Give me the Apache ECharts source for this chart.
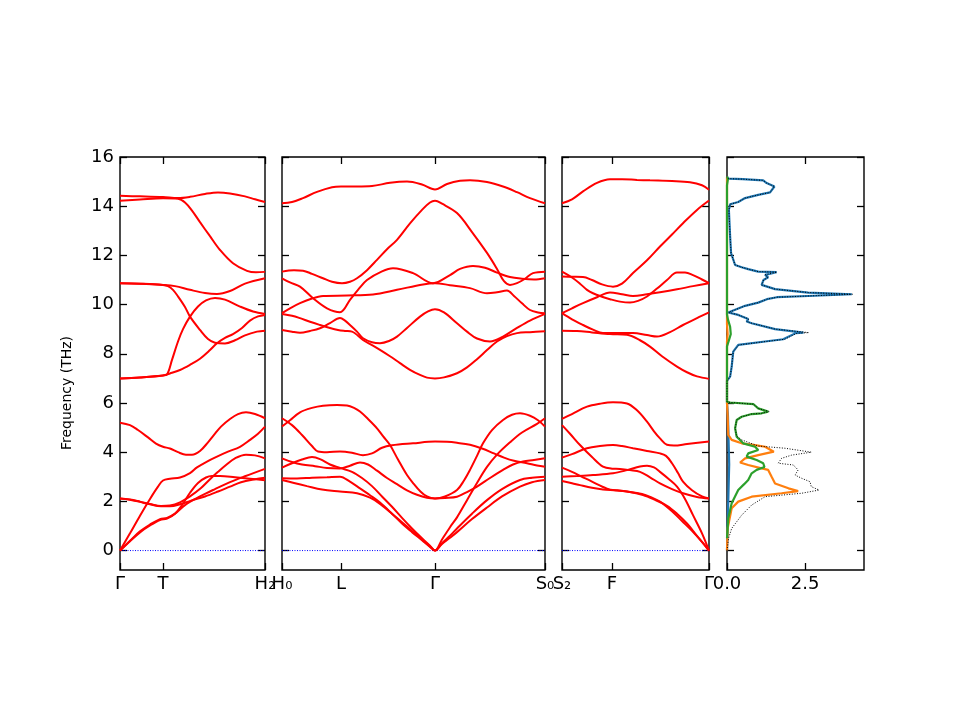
<!DOCTYPE html>
<html><head><meta charset="utf-8">
<script src="https://cdn.jsdelivr.net/npm/echarts@6/dist/echarts.min.js"></script>
<style>html,body{margin:0;padding:0;background:#fff}#c{width:960px;height:720px}</style>
</head><body><div id="c"></div>
<script>
// ---------- DATA ----------
// k-path distances (arbitrary units) of the high-symmetry points per segment
const p1Ticks = [0, 43, 145];  const p1Labels = ['Γ', 'T', 'H₂'];
const p2Ticks = [0, 59, 153, 263]; const p2Labels = ['H₀', 'L', 'Γ', 'S₀'];
const p3Ticks = [0, 50, 147];  const p3Labels = ['S₂', 'F', 'Γ'];
const freqTicks = [0, 2, 4, 6, 8, 10, 12, 14, 16];
const dosTicks = [0, 2.5]; const dosLabels = ['0.0', '2.5'];

// Segment 1: Γ - T - H2   ([distance, THz])
const p1Bands = [
 [[0,0],[10,0.38],[20,0.74],[30,1.02],[40,1.24],[47,1.3],[55,1.5],[62,1.85],[70,2.35],[78,2.75],[86,2.97],[92,3.03],[100,3.03],[115,2.98],[130,2.92],[145,2.86]],
 [[0,0],[10,0.4],[20,0.78],[30,1.06],[40,1.28],[47,1.33],[55,1.5],[65,1.85],[80,2.2],[95,2.5],[110,2.78],[125,3.02],[145,3.32]],
 [[0,2.12],[10,2.07],[20,1.98],[30,1.88],[41,1.8],[50,1.8],[60,1.88],[71,2.03],[85,2.2],[98,2.4],[110,2.6],[121,2.78],[135,2.9],[145,2.96]],
 [[0,2.12],[10,2.08],[20,1.99],[30,1.89],[41,1.81],[50,1.83],[60,1.96],[70,2.2],[81,2.54],[90,2.9],[98,3.2],[106,3.48],[115,3.75],[126,3.9],[135,3.87],[145,3.75]],
 [[0,0],[10,0.7],[20,1.42],[30,2.1],[38,2.6],[43,2.85],[50,2.92],[60,2.97],[70,3.15],[77,3.38],[87,3.62],[97,3.82],[108,4.02],[120,4.22],[130,4.5],[138,4.75],[145,5.04]],
 [[0,5.2],[10,5.1],[18,4.9],[28,4.6],[36,4.35],[43,4.22],[50,4.15],[58,4.0],[66,3.9],[72,3.9],[80,4.05],[88,4.4],[95,4.75],[101,5.04],[110,5.35],[118,5.55],[126,5.62],[135,5.55],[145,5.38]],
 [[0,7.0],[20,7.04],[43,7.12],[50,7.2],[60,7.34],[70,7.55],[80,7.8],[90,8.15],[97,8.43],[105,8.65],[113,8.8],[122,9.05],[130,9.35],[138,9.52],[145,9.58]],
 [[0,7.0],[20,7.04],[43,7.12],[47,7.16],[52,7.75],[58,8.5],[63,9.0],[70,9.51],[78,9.92],[86,10.17],[95,10.27],[105,10.2],[120,9.92],[133,9.72],[145,9.62]],
 [[0,10.87],[20,10.85],[43,10.8],[48,10.75],[53,10.6],[58,10.33],[65,9.9],[70,9.51],[80,8.97],[88,8.6],[95,8.45],[105,8.42],[115,8.55],[125,8.75],[137,8.9],[145,8.94]],
 [[0,10.87],[20,10.85],[43,10.8],[55,10.75],[70,10.6],[85,10.47],[97,10.43],[110,10.55],[125,10.85],[145,11.07]],
 [[0,14.22],[20,14.27],[43,14.32],[58,14.3],[65,14.15],[72,13.82],[80,13.35],[90,12.78],[100,12.22],[113,11.68],[127,11.37],[136,11.31],[145,11.33]],
 [[0,14.42],[20,14.4],[43,14.37],[58,14.33],[70,14.38],[85,14.5],[98,14.56],[110,14.52],[125,14.4],[135,14.28],[145,14.17]]
];

// Segment 2: H0 - L - Γ - S0
const p2Bands = [
 [[0,5.04],[8,5.3],[18,5.62],[30,5.8],[41,5.89],[55,5.92],[65,5.9],[72,5.8],[78,5.65],[86,5.35],[95,4.97],[101,4.65],[108,4.29],[116,3.7],[125,3.07],[132,2.7],[138,2.42],[145,2.2],[153,2.12],[163,2.2],[175,2.46],[182,2.85],[188,3.28],[195,3.85],[201,4.36],[210,4.9],[221,5.31],[230,5.52],[238,5.58],[248,5.48],[256,5.3],[263,5.04]],
 [[0,5.38],[10,5.1],[20,4.7],[30,4.25],[36,4.03],[45,4.0],[58,4.03],[70,3.98],[81,3.88],[90,3.95],[100,4.18],[110,4.28],[131,4.36],[153,4.43],[165,4.42],[175,4.38],[188,4.3],[200,4.15],[212,3.95],[222,3.78],[232,3.65],[245,3.55],[255,3.46],[263,3.41]],
 [[0,3.75],[10,3.6],[20,3.5],[33,3.43],[45,3.36],[58,3.34],[68,3.45],[78,3.58],[86,3.5],[95,3.25],[105,2.95],[115,2.7],[125,2.45],[135,2.27],[145,2.15],[153,2.12],[163,2.14],[175,2.19],[185,2.38],[195,2.6],[208,2.95],[221,3.28],[231,3.5],[241,3.62],[252,3.68],[263,3.75]],
 [[0,3.37],[10,3.55],[20,3.7],[30,3.8],[38,3.72],[48,3.5],[58,3.36],[70,3.2],[80,2.95],[90,2.62],[100,2.2],[110,1.78],[120,1.33],[130,0.9],[140,0.5],[148,0.2],[153,0],[160,0.45],[168,0.95],[175,1.35],[185,2.05],[195,2.75],[205,3.4],[215,3.9],[228,4.4],[240,4.8],[255,5.15],[263,5.38]],
 [[0,2.94],[15,2.93],[30,2.96],[45,2.98],[58,3.0],[68,2.8],[78,2.53],[88,2.25],[98,1.95],[110,1.5],[120,1.1],[130,0.75],[140,0.42],[148,0.15],[153,0],[160,0.3],[168,0.6],[175,0.9],[190,1.5],[205,2.05],[220,2.5],[238,2.87],[250,2.96],[263,3.0]],
 [[0,2.87],[12,2.75],[25,2.62],[40,2.48],[58,2.4],[75,2.33],[88,2.15],[98,1.9],[110,1.5],[120,1.15],[130,0.8],[140,0.45],[148,0.17],[153,0],[160,0.27],[168,0.52],[175,0.75],[190,1.28],[205,1.75],[220,2.2],[238,2.6],[250,2.78],[263,2.87]],
 [[0,9.62],[10,9.55],[18,9.45],[28,9.3],[38,9.17],[48,9.05],[56,8.97],[63,8.93],[70,8.9],[81,8.56],[90,8.35],[98,8.16],[108,7.9],[118,7.62],[128,7.35],[138,7.14],[145,7.03],[153,7.0],[162,7.04],[175,7.21],[185,7.45],[195,7.78],[205,8.15],[215,8.5],[225,8.72],[235,8.84],[248,8.88],[263,8.92]],
 [[0,8.97],[10,8.9],[18,8.86],[28,8.93],[38,9.04],[48,9.25],[58,9.45],[63,9.35],[68,9.17],[75,8.9],[81,8.63],[90,8.47],[98,8.43],[107,8.52],[115,8.7],[125,9.05],[138,9.51],[146,9.72],[153,9.81],[162,9.68],[175,9.24],[185,8.9],[195,8.62],[208,8.5],[221,8.7],[235,9.05],[248,9.35],[263,9.62]],
 [[0,9.65],[8,9.85],[18,10.06],[30,10.25],[41,10.35],[65,10.37],[91,10.41],[115,10.6],[141,10.82],[153,10.87],[168,10.79],[188,10.67],[205,10.46],[215,10.5],[225,10.57],[232,10.35],[240,10.05],[248,9.78],[256,9.68],[263,9.65]],
 [[0,11.07],[8,10.9],[18,10.73],[31,10.26],[45,9.85],[58,9.69],[68,10.19],[76,10.6],[85,11.0],[100,11.35],[111,11.48],[131,11.28],[151,10.87],[168,11.2],[178,11.45],[191,11.57],[203,11.5],[215,11.3],[228,11.12],[240,11.05],[252,11.02],[263,11.07]],
 [[0,11.34],[12,11.4],[21,11.38],[30,11.25],[41,11.07],[50,10.93],[60,10.87],[68,10.93],[75,11.07],[85,11.4],[95,11.82],[105,12.25],[115,12.63],[128,13.3],[140,13.85],[148,14.15],[153,14.22],[160,14.1],[175,13.72],[190,12.95],[205,12.1],[215,11.45],[222,10.95],[228,10.8],[235,10.87],[243,11.05],[251,11.28],[263,11.34]],
 [[0,14.12],[10,14.17],[21,14.33],[35,14.58],[50,14.77],[59,14.8],[75,14.8],[90,14.82],[108,14.95],[125,15.0],[140,14.88],[153,14.68],[165,14.9],[178,15.03],[188,15.05],[205,14.98],[221,14.8],[235,14.57],[248,14.33],[263,14.12]]
];

// Segment 3: S2 - F - Γ
const p3Bands = [
 [[0,5.35],[10,5.55],[25,5.85],[38,5.97],[51,6.03],[65,5.98],[75,5.7],[85,5.24],[92,4.85],[98,4.56],[105,4.3],[112,4.27],[125,4.33],[147,4.43]],
 [[0,5.1],[8,4.75],[18,4.29],[30,3.8],[41,3.41],[50,3.33],[58,3.32],[68,3.27],[78,3.2],[88,2.98],[98,2.73],[110,2.5],[121,2.33],[135,2.18],[147,2.12]],
 [[0,3.78],[10,3.92],[25,4.16],[38,4.25],[51,4.29],[60,4.25],[71,4.16],[85,4.05],[98,3.95],[104,3.85],[110,3.55],[116,3.15],[121,2.8],[130,2.45],[140,2.2],[147,2.12]],
 [[0,3.37],[10,3.2],[20,3.0],[30,2.8],[45,2.52],[55,2.44],[65,2.4],[80,2.3],[90,2.15],[98,1.99],[110,1.6],[120,1.2],[130,0.8],[140,0.35],[147,0]],
 [[0,3.0],[15,3.03],[31,3.07],[51,3.14],[65,3.27],[78,3.42],[85,3.45],[92,3.38],[98,3.2],[107,2.9],[115,2.6],[123,2.1],[131,1.44],[140,0.7],[147,0]],
 [[0,2.83],[10,2.74],[18,2.66],[30,2.55],[41,2.48],[55,2.45],[68,2.38],[81,2.26],[92,2.08],[105,1.82],[115,1.5],[125,1.1],[135,0.6],[142,0.25],[147,0]],
 [[0,8.94],[15,8.93],[30,8.87],[48,8.8],[65,8.77],[78,8.55],[88,8.29],[100,7.9],[115,7.48],[125,7.25],[135,7.08],[147,6.98]],
 [[0,9.65],[10,9.4],[21,9.17],[31,8.98],[41,8.84],[55,8.84],[71,8.84],[85,8.76],[95,8.7],[108,8.88],[121,9.17],[135,9.45],[147,9.68]],
 [[0,9.65],[10,9.85],[21,10.06],[35,10.3],[48,10.49],[60,10.42],[71,10.35],[85,10.42],[98,10.5],[115,10.62],[131,10.75],[147,10.87]],
 [[0,11.14],[10,11.13],[21,11.12],[30,11.0],[40,10.82],[51,10.73],[60,10.85],[71,11.28],[85,11.8],[98,12.36],[110,12.85],[121,13.31],[135,13.85],[147,14.23]],
 [[0,11.34],[10,11.1],[18,10.85],[25,10.6],[31,10.46],[40,10.32],[48,10.22],[58,10.12],[68,10.08],[76,10.15],[85,10.33],[95,10.65],[105,11.0],[115,11.3],[123,11.3],[131,11.2],[140,11.02],[147,10.87]],
 [[0,14.12],[10,14.28],[21,14.6],[35,14.95],[48,15.1],[60,15.1],[75,15.07],[88,15.05],[110,15.02],[128,14.97],[140,14.85],[147,14.67]]
];

// Projected DOS: [DOS, THz]
const dosBlue = [[0,0],[0.03,1.5],[0.05,2.5],[0.07,3.5],[0.05,4.5],[0.03,5.5],[0,6.0],[0,6.9],[0.02,6.96],[0.1,7.07],[0.15,7.48],[0.2,8.09],[0.36,8.36],[1.22,8.5],[1.8,8.59],[2.2,8.84],[2.45,8.86],[1.54,9.0],[0.79,9.24],[0.63,9.31],[0.68,9.41],[0.36,9.58],[0.04,9.68],[0.58,9.95],[1.0,10.08],[1.28,10.22],[1.6,10.3],[2.6,10.35],[4.0,10.42],[2.6,10.49],[1.54,10.63],[1.11,10.8],[1.17,11.0],[1.32,11.11],[1.22,11.21],[1.59,11.32],[1.0,11.34],[0.68,11.44],[0.47,11.52],[0.26,11.61],[0.13,12.09],[0.1,12.77],[0.08,13.3],[0.06,13.85],[0.1,14.08],[0.36,14.17],[0.58,14.33],[1.0,14.46],[1.38,14.56],[1.52,14.8],[1.27,14.94],[1.16,15.05],[0.5,15.1],[0.05,15.12],[0,15.2]];
const dosOrange = [[0,0],[0.02,0.9],[0.15,1.72],[0.36,1.99],[0.79,2.19],[1.75,2.33],[2.28,2.42],[1.97,2.53],[1.54,2.73],[1.43,3.0],[1.32,3.28],[1.11,3.34],[0.68,3.48],[0.42,3.58],[0.58,3.75],[1.0,3.88],[1.5,4.02],[1.22,4.22],[0.9,4.29],[0.47,4.36],[0.15,4.5],[0.04,4.7],[0.02,5.5],[0,6.0],[0,8.5],[0.02,8.8],[0,9.2],[0,15.2]];
const dosGreen = [[0,0.5],[0.04,1.3],[0.15,1.92],[0.36,2.46],[0.55,2.7],[0.68,2.87],[0.79,3.14],[0.95,3.28],[1.2,3.4],[1.16,3.55],[0.95,3.68],[0.63,3.82],[0.68,3.95],[1.0,4.09],[0.9,4.22],[0.52,4.36],[0.31,4.63],[0.26,4.97],[0.31,5.31],[0.47,5.44],[0.79,5.55],[1.11,5.58],[1.32,5.65],[1.0,5.78],[0.85,5.95],[0.1,6.02],[0,6.05],[0,8.3],[0.05,8.5],[0.12,8.8],[0.1,9.1],[0.03,9.4],[0,9.6],[0,14.85],[0.03,15.1],[0,15.2]];
const dosTotal = [[0,0],[0.05,0.5],[0.15,0.9],[0.47,1.44],[0.79,1.85],[1.22,2.19],[2.39,2.33],[2.95,2.46],[2.7,2.6],[2.66,2.8],[2.39,2.94],[2.18,3.07],[2.28,3.28],[2.12,3.48],[1.64,3.55],[1.75,3.75],[2.07,3.88],[2.7,4.0],[1.86,4.16],[1.0,4.25],[0.47,4.5],[0.31,4.65],[0.26,4.97],[0.31,5.31],[0.47,5.44],[0.79,5.55],[1.11,5.58],[1.35,5.65],[1.0,5.78],[0.85,5.95],[0.1,6.02],[0,6.05],[0,6.9],[0.02,6.96],[0.1,7.07],[0.15,7.48],[0.2,8.09],[0.38,8.36],[1.25,8.5],[1.85,8.59],[2.25,8.84],[2.62,8.86],[1.56,9.0],[0.8,9.24],[0.64,9.31],[0.7,9.41],[0.37,9.58],[0.05,9.68],[0.58,9.95],[1.0,10.08],[1.28,10.22],[1.6,10.3],[2.6,10.35],[4.02,10.42],[2.6,10.49],[1.54,10.63],[1.11,10.8],[1.17,11.0],[1.32,11.11],[1.22,11.21],[1.6,11.32],[1.0,11.34],[0.68,11.44],[0.47,11.52],[0.26,11.61],[0.13,12.09],[0.1,12.77],[0.08,13.3],[0.06,13.85],[0.1,14.08],[0.36,14.17],[0.58,14.33],[1.0,14.46],[1.38,14.56],[1.52,14.8],[1.27,14.94],[1.16,15.05],[0.5,15.1],[0.05,15.12],[0,15.2]];

// ---------- CHART ----------
const FONT = 'DejaVu Sans';
const YMIN = -0.79, YMAX = 16;
const panels = [
  {left:120, width:145, max:145, ticks:p1Ticks, labels:p1Labels, bands:p1Bands},
  {left:282, width:263, max:263, ticks:p2Ticks, labels:p2Labels, bands:p2Bands},
  {left:562, width:147, max:147, ticks:p3Ticks, labels:p3Labels, bands:p3Bands},
  {left:727, width:137, max:4.39, ticks:dosTicks, labels:dosLabels, dos:true}
];
const grids = [], xAxes = [], yAxes = [], series = [];
function lab(ticks, labels){
  return function(v){
    let best = 0, bd = Infinity;
    ticks.forEach((t,i)=>{ const d=Math.abs(t-v); if(d<bd){bd=d;best=i;} });
    return labels[best];
  };
}
const noLine = {show:false, onZero:false};
panels.forEach((p, gi) => {
  grids.push({left:p.left, top:157, width:p.width, height:413, show:true,
    borderColor:'#000', borderWidth:1.4, backgroundColor:'rgba(0,0,0,0)'});
  const tickStyle = {show:true, inside:true, length:7, lineStyle:{color:'#000', width:1.3}};
  const topTicks = p.dos ? [2.5] : p.ticks;
  xAxes.push({gridIndex:gi, type:'value', min:0, max:p.max, position:'bottom',
    axisLine:noLine, splitLine:{show:false},
    axisTick:Object.assign({customValues:p.ticks}, tickStyle),
    axisLabel:{show:true, customValues:p.ticks, formatter:lab(p.ticks,p.labels), hideOverlap:false,
      color:'#000', fontSize:18, fontFamily:FONT, margin:5}});
  xAxes.push({gridIndex:gi, type:'value', min:0, max:p.max, position:'top',
    axisLine:noLine, splitLine:{show:false},
    axisTick:Object.assign({customValues:topTicks}, tickStyle),
    axisLabel:{show:false}});
  yAxes.push({gridIndex:gi, type:'value', min:YMIN, max:YMAX, position:'left',
    axisLine:noLine, splitLine:{show:false},
    axisTick:Object.assign({customValues:freqTicks}, tickStyle),
    axisLabel:{show:gi===0, customValues:freqTicks, color:'#000', fontSize:18, fontFamily:FONT, margin:6}});
  yAxes.push({gridIndex:gi, type:'value', min:YMIN, max:YMAX, position:'right',
    axisLine:noLine, splitLine:{show:false},
    axisTick:Object.assign({customValues:freqTicks}, tickStyle),
    axisLabel:{show:false}});
  const xi = gi*2, yi = gi*2;
  if (!p.dos) {
    series.push({type:'line', xAxisIndex:xi, yAxisIndex:yi, data:[[0,0],[p.max,0]],
      showSymbol:false, silent:true, lineStyle:{color:'#0000ff', width:1, type:[1,1.5]}, z:1});
    p.bands.forEach(b => series.push({type:'line', xAxisIndex:xi, yAxisIndex:yi, data:b,
      showSymbol:false, silent:true, smooth:0.35,
      lineStyle:{color:'#ff0000', width:2}, z:2}));
  } else {
    [[dosBlue,'#1f77b4',2.2],[dosOrange,'#ff7f0e',2.2],[dosGreen,'#2ca02c',2.2]].forEach(([d,c,w]) =>
      series.push({type:'line', xAxisIndex:xi, yAxisIndex:yi, data:d, showSymbol:false, silent:true,
        lineStyle:{color:c, width:w}, z:2}));
    series.push({type:'line', xAxisIndex:xi, yAxisIndex:yi, data:dosTotal, showSymbol:false, silent:true,
      lineStyle:{color:'#000', width:1, type:[1,1.6]}, z:3});
  }
});

const chart = echarts.init(document.getElementById('c'), null, {renderer:'canvas'});
chart.setOption({
  animation:false,
  backgroundColor:'#fff',
  grid:grids, xAxis:xAxes, yAxis:yAxes, series:series,
  graphic:[{type:'text', x:67, y:393, rotation:Math.PI/2,
    style:{text:'Frequency (THz)', font:'14px "DejaVu Sans"', fill:'#000', align:'center', verticalAlign:'middle'}}]
});
</script></body></html>
